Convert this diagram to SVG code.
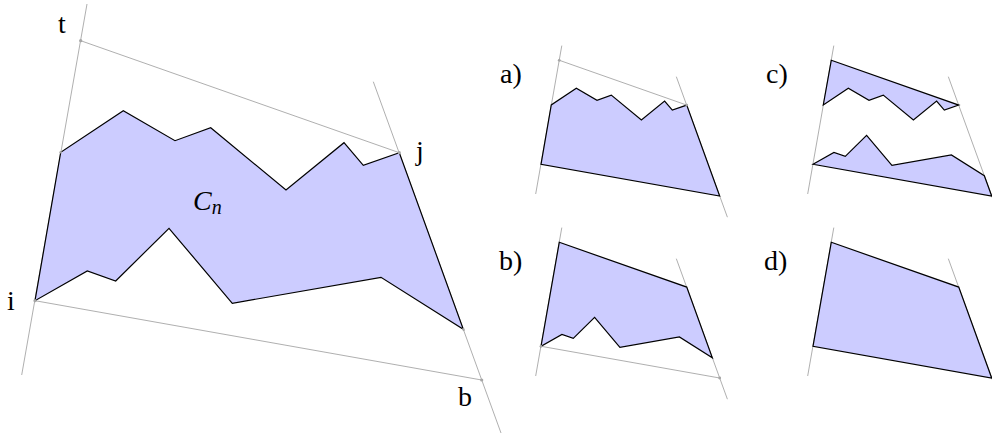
<svg xmlns="http://www.w3.org/2000/svg" xmlns:xlink="http://www.w3.org/1999/xlink" width="992" height="437" viewBox="0 0 992 437">
<style>
.bg{fill:#fff}
.guide{stroke:#a6a6a6;stroke-width:0.9;fill:none;vector-effect:non-scaling-stroke}
.poly{fill:#ccccff;stroke:#000;stroke-width:1.2;stroke-linejoin:miter;vector-effect:non-scaling-stroke}
.dot{fill:#a6a6a6}
.lbl{font-family:"Liberation Serif","DejaVu Serif",serif;font-size:28px;fill:#000}
.math{font-family:"Liberation Serif","DejaVu Serif",serif;font-style:italic;fill:#000}
</style>
<defs>
<line id="leftLine" class="guide" x1="87" y1="4" x2="21.7" y2="375"/>
<line id="rightLine" class="guide" x1="373.3" y1="81.7" x2="501" y2="433"/>
<line id="topLine" class="guide" x1="80.7" y1="40.7" x2="399.3" y2="152.7"/>
<line id="botLine" class="guide" x1="35" y1="300.7" x2="481.7" y2="380"/>
<path id="fullPoly" class="poly" d="M35,300.7 L60.7,152.3 L123.3,110.7 L175,140.7 L210.7,127.7 L286,190 L344,142.7 L363.3,165.3 L399.3,152.7 L463.3,329.3 L381,277.3 L232.3,303.3 L169,228.3 L115.7,281 L87.3,271 Z"/>
<path id="aPoly" class="poly" d="M35,300.7 L60.7,152.3 L123.3,110.7 L175,140.7 L210.7,127.7 L286,190 L344,142.7 L363.3,165.3 L399.3,152.7 L481.7,380 Z"/>
<path id="bPoly" class="poly" d="M80.7,40.7 L399.3,152.7 L463.3,329.3 L381,277.3 L232.3,303.3 L169,228.3 L115.7,281 L87.3,271 L35,300.7 Z"/>
<path id="cUpper" class="poly" d="M80.7,40.7 L399.3,152.7 L363.3,165.3 L344,142.7 L286,190 L210.7,127.7 L175,140.7 L123.3,110.7 L60.7,152.3 Z"/>
<path id="cLower" class="poly" d="M35,300.7 L87.3,271 L115.7,281 L169,228.3 L232.3,303.3 L381,277.3 L463.3,329.3 L481.7,380 Z"/>
<path id="dPoly" class="poly" d="M80.7,40.7 L399.3,152.7 L481.7,380 L35,300.7 Z"/>
</defs>
<rect class="bg" x="0" y="0" width="992" height="437"/>

<g id="main">
  <use xlink:href="#leftLine"/>
  <use xlink:href="#rightLine"/>
  <use xlink:href="#topLine"/>
  <use xlink:href="#botLine"/>
  <use xlink:href="#fullPoly"/>
  <circle class="dot" cx="80.7" cy="40.7" r="1.6"/>
  <circle class="dot" cx="399.3" cy="152.7" r="1.6"/>
  <circle class="dot" cx="35" cy="300.7" r="1.6"/>
  <circle class="dot" cx="481.7" cy="380" r="1.6"/>
  <circle class="dot" cx="60.7" cy="152.3" r="1.3"/>
  <circle class="dot" cx="463.3" cy="329.3" r="1.3"/>
  <text class="lbl" x="58" y="33">t</text>
  <text class="lbl" x="416" y="160">j</text>
  <text class="lbl" x="7" y="310">i</text>
  <text class="lbl" x="458" y="406">b</text>
  <text class="math" x="193" y="210" font-size="28">C<tspan font-size="20" dy="4">n</tspan></text>
</g>

<g id="panel-a">
  <g transform="translate(527,44) scale(0.4)">
    <use xlink:href="#leftLine"/>
    <use xlink:href="#rightLine"/>
    <use xlink:href="#topLine"/>
    <use xlink:href="#aPoly"/>
    <circle class="dot" cx="80.7" cy="40.7" r="3.5"/>
    <circle class="dot" cx="399.3" cy="152.7" r="3.5"/>
  </g>
  <text class="lbl" x="500" y="83">a)</text>
</g>

<g id="panel-b">
  <g transform="translate(527,226) scale(0.4)">
    <use xlink:href="#leftLine"/>
    <use xlink:href="#rightLine"/>
    <use xlink:href="#botLine"/>
    <use xlink:href="#bPoly"/>
    <circle class="dot" cx="35" cy="300.7" r="3.5"/>
    <circle class="dot" cx="481.7" cy="380" r="3.5"/>
  </g>
  <text class="lbl" x="499" y="270">b)</text>
</g>

<g id="panel-c">
  <g transform="translate(799,44) scale(0.4)">
    <use xlink:href="#leftLine"/>
    <use xlink:href="#rightLine"/>
    <use xlink:href="#cUpper"/>
    <use xlink:href="#cLower"/>
  </g>
  <text class="lbl" x="766" y="83">c)</text>
</g>

<g id="panel-d">
  <g transform="translate(799,226) scale(0.4)">
    <use xlink:href="#leftLine"/>
    <use xlink:href="#rightLine"/>
    <use xlink:href="#dPoly"/>
  </g>
  <text class="lbl" x="764" y="270">d)</text>
</g>
</svg>
